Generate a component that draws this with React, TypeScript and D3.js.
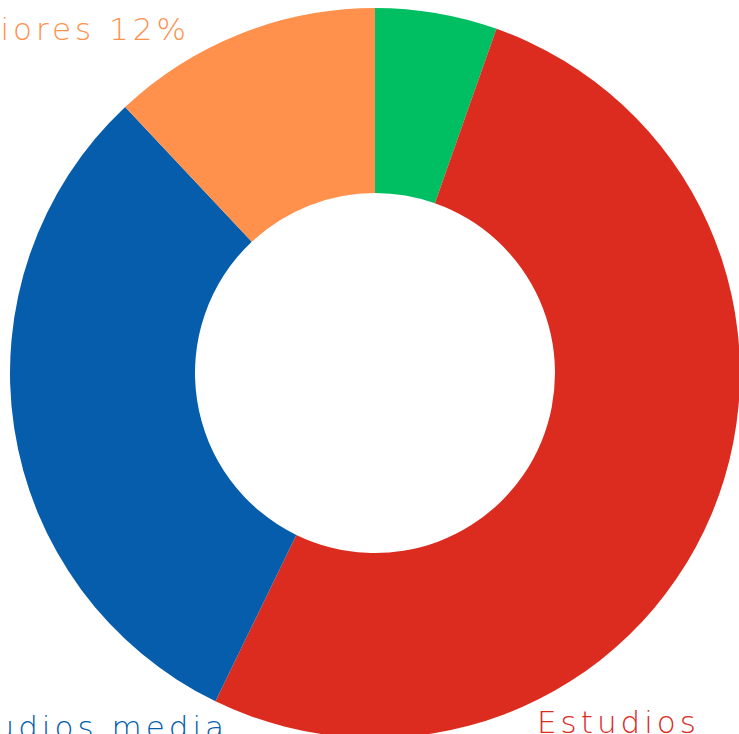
import React from "react";
import * as d3 from "d3";

const categories = ["Otros", "Estudios básicos", "Estudios media", "Estudios superiores"];
const values = [5.4, 51.8, 30.8, 12];
const colors = ["#00BF63", "#DC2B1F", "#055DAB", "#FF914D"];

const W = 739;
const H = 734;
const cx = 375;
const cy = 373;
const outerR = 365;
const innerR = 180;

export default function App() {
  const pie = d3.pie<number>().sort(null).value((d) => d)(values);
  const arc = d3.arc<d3.PieArcDatum<number>>().innerRadius(innerR).outerRadius(outerR);
  const font = "'DejaVu Sans', 'Noto Sans', sans-serif";
  const fs = 31;
  const ls = 4;
  return (
    <svg width={W} height={H} style={{ position: "absolute", left: 0, top: 0 }}>
      <g transform={`translate(${cx},${cy})`}>
        {pie.map((p, i) => (
          <path key={categories[i]} d={arc(p) || ""} fill={colors[i]} />
        ))}
      </g>
      <text x={190} y={40} textAnchor="end" fill={colors[3]} fontFamily={font} fontSize={fs} fontWeight={200} letterSpacing={ls}>
        {`${categories[3]} ${values[3]}%`}
      </text>
      <text x={228} y={738} textAnchor="end" fill={colors[2]} fontFamily={font} fontSize={fs} fontWeight={200} letterSpacing={ls}>
        {categories[2]}
      </text>
      <text x={537} y={733} textAnchor="start" fill={colors[1]} fontFamily={font} fontSize={fs} fontWeight={200} letterSpacing={ls}>
        Estudios
      </text>
    </svg>
  );
}
